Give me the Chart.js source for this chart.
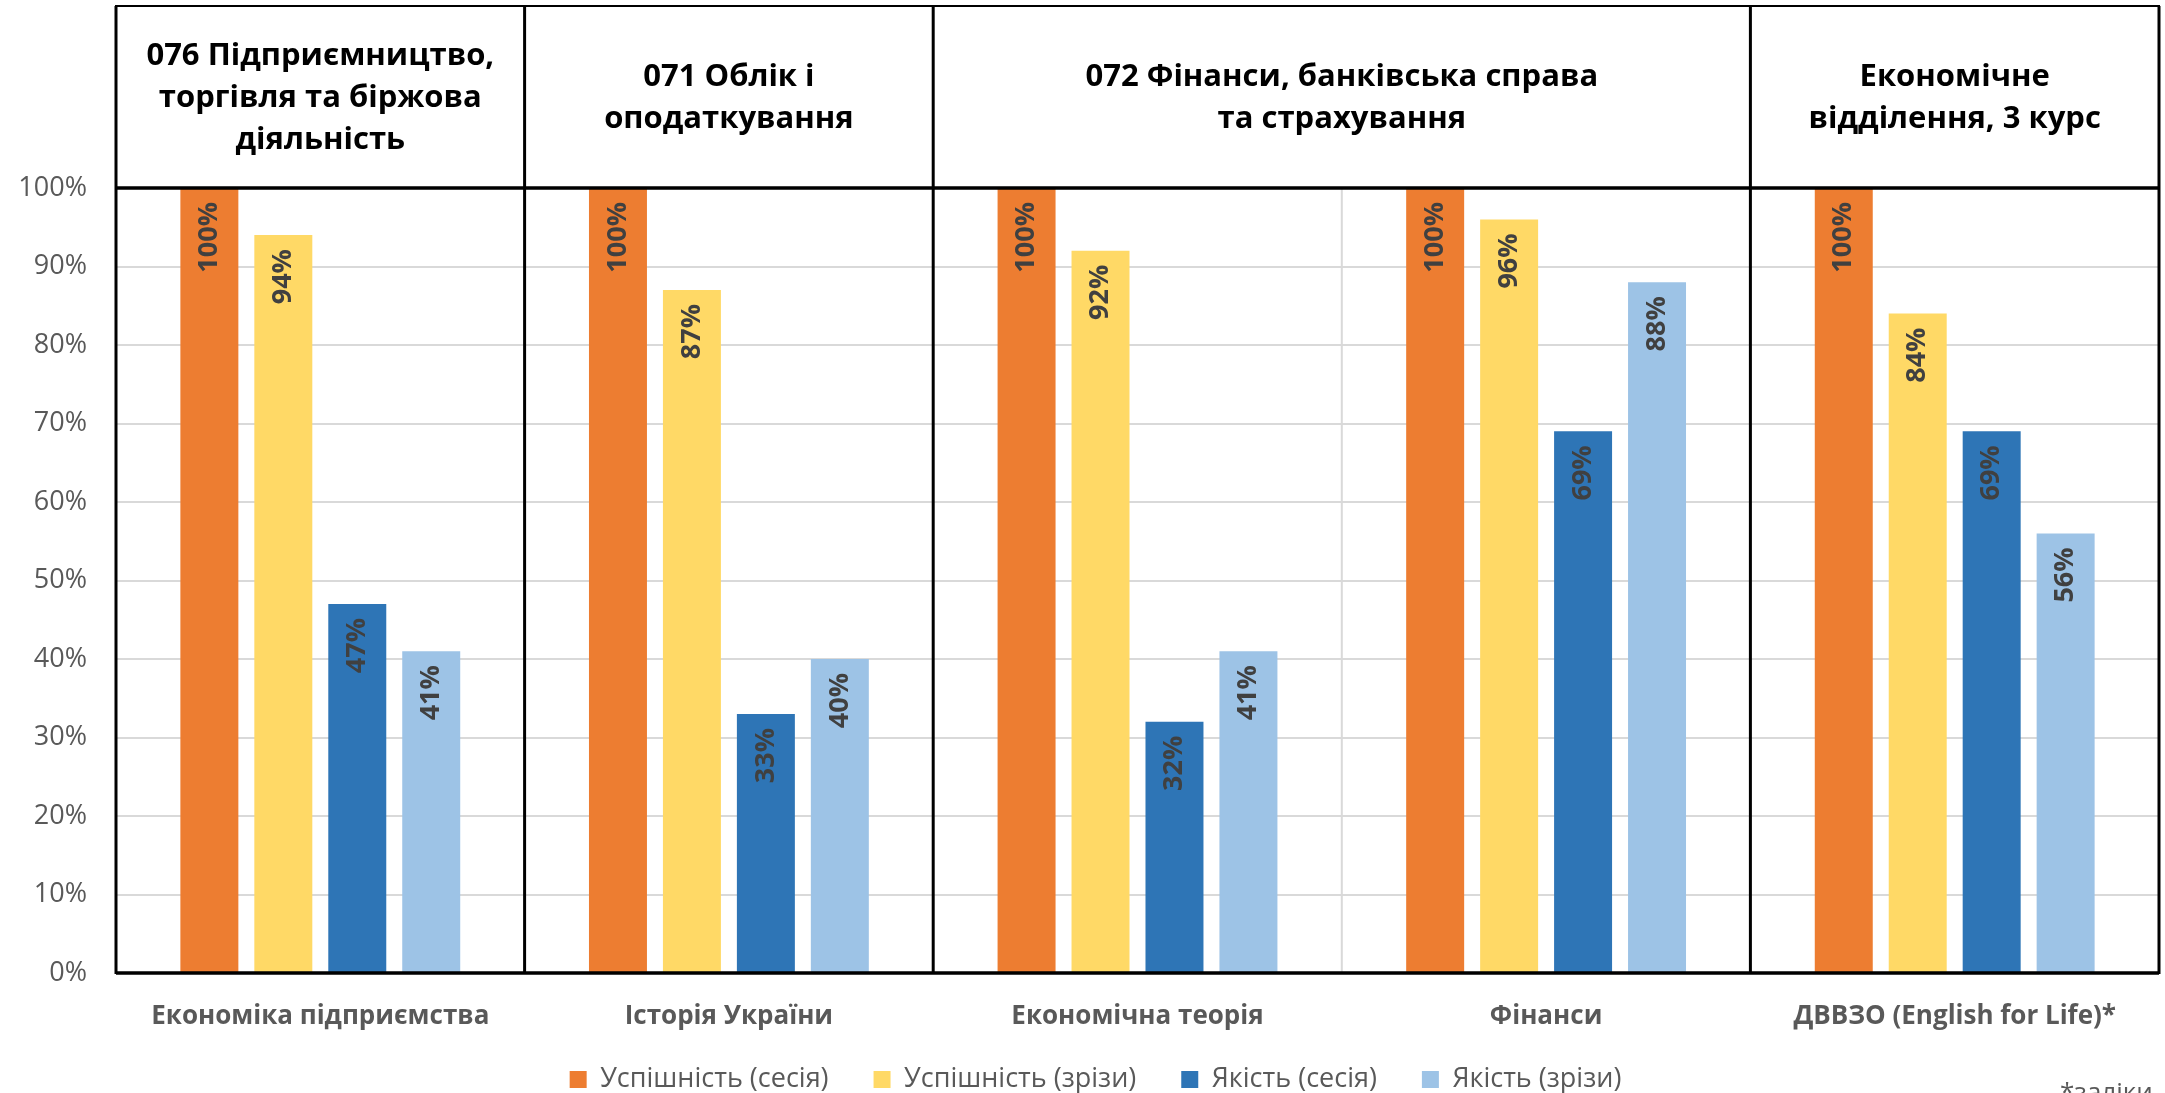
<!DOCTYPE html>
<html lang="uk">
<head>
<meta charset="utf-8">
<title>Успішність та якість</title>
<script src="https://cdn.jsdelivr.net/npm/chart.js@4.4.1/dist/chart.umd.min.js"></script>
<style>
    html, body { margin: 0; padding: 0; background: #ffffff; }
    #wrap { width: 2165px; height: 1093px; }
</style>
</head>
<body>
<div id="wrap"><canvas id="resultsChart" width="2165" height="1093"></canvas></div>
<script>
// ==============================
// Data
// ==============================
const subjects = [
    'Економіка підприємства',
    'Історія України',
    'Економічна теорія',
    'Фінанси',
    'ДВВЗО (English for Life)*'
];

const successSession = [100, 100, 100, 100, 100];
const successCuts = [94, 87, 92, 96, 84];
const qualitySession = [47, 33, 32, 69, 69];
const qualityCuts = [41, 40, 41, 88, 56];

const seriesNames = ['Успішність (сесія)', 'Успішність (зрізи)', 'Якість (сесія)', 'Якість (зрізи)'];
const seriesColors = ['#ED7D31', '#FFD966', '#2E75B6', '#9DC3E6'];

// header cells above the plot, with how many subjects each one covers
const headerTexts = [
    ['076 Підприємництво,', 'торгівля та біржова', 'діяльність'],
    ['071 Облік і', 'оподаткування'],
    ['072 Фінанси, банківська справа', 'та страхування'],
    ['Економічне', 'відділення, 3 курс']
];
const headerSpans = [1, 1, 2, 1];

const yTicks = [0, 10, 20, 30, 40, 50, 60, 70, 80, 90, 100];
const footNote = '*заліки';

const FONT = '"Open Sans", "Noto Sans", sans-serif';

// ==============================
// Plugins
// ==============================

// vertical value labels inside the top of every bar
const barLabels = {
    id: 'barLabels',
    afterDatasetsDraw(chart) {
        const ctx = chart.ctx;
        ctx.save();
        ctx.fillStyle = '#404040';
        ctx.font = 'bold 27px ' + FONT;
        ctx.textAlign = 'right';
        ctx.textBaseline = 'middle';
        chart.data.datasets.forEach((ds, i) => {
            chart.getDatasetMeta(i).data.forEach((bar, j) => {
                ctx.save();
                ctx.translate(bar.x, bar.y + 14);
                ctx.rotate(-Math.PI / 2);
                ctx.fillText(ds.data[j] + '%', 0, 0);
                ctx.restore();
            });
        });
        ctx.restore();
    }
};

// legend sits a bit closer to the axis labels than the layout allows
const legendNudge = {
    id: 'legendNudge',
    afterLayout(chart) {
        const lg = chart.legend;
        if (lg) {
            lg.top -= 12;
            lg.bottom -= 12;
            lg.left += 16;
            lg.right += 16;
        }
    }
};

// header table, group frames and the foot note
const frame = {
    id: 'frame',
    afterDraw(chart) {
        const ctx = chart.ctx;
        const area = chart.chartArea;
        const step = (area.right - area.left) / subjects.length;
        const headTop = 6;

        ctx.save();

        // thin divider between the two subjects of the shared group
        ctx.strokeStyle = '#d9d9d9';
        ctx.lineWidth = 2;
        let pos = 0;
        headerSpans.forEach(span => {
            for (let k = 1; k < span; k++) {
                const x = area.left + (pos + k) * step;
                ctx.beginPath();
                ctx.moveTo(x, area.top);
                ctx.lineTo(x, area.bottom);
                ctx.stroke();
            }
            pos += span;
        });

        // outer box of the header
        ctx.strokeStyle = '#000000';
        ctx.lineWidth = 2;
        ctx.strokeRect(area.left, headTop, area.right - area.left, area.top - headTop);

        // group dividers run through header and plot
        ctx.lineWidth = 3;
        pos = 0;
        const edges = [0];
        headerSpans.forEach(span => { pos += span; edges.push(pos); });
        edges.forEach(e => {
            const x = area.left + e * step;
            ctx.beginPath();
            ctx.moveTo(x, headTop);
            ctx.lineTo(x, area.bottom + 1);
            ctx.stroke();
        });

        // top and bottom of the plot
        ctx.lineWidth = 3.5;
        ctx.beginPath();
        ctx.moveTo(area.left, area.top);
        ctx.lineTo(area.right, area.top);
        ctx.moveTo(area.left, area.bottom);
        ctx.lineTo(area.right, area.bottom);
        ctx.stroke();

        // header texts
        ctx.fillStyle = '#000000';
        ctx.font = 'bold 31px ' + FONT;
        ctx.textAlign = 'center';
        ctx.textBaseline = 'middle';
        const lineGap = 42;
        const midY = (headTop + area.top) / 2 + 1;
        for (let g = 0; g < headerTexts.length; g++) {
            const x0 = area.left + edges[g] * step;
            const x1 = area.left + edges[g + 1] * step;
            const lines = headerTexts[g];
            const y0 = midY - (lines.length - 1) * lineGap / 2;
            lines.forEach((t, k) => ctx.fillText(t, (x0 + x1) / 2, y0 + k * lineGap));
        }

        // foot note, cut by the bottom edge like in the source
        ctx.fillStyle = '#595959';
        ctx.font = '26px ' + FONT;
        ctx.textAlign = 'left';
        ctx.textBaseline = 'alphabetic';
        ctx.fillText(footNote, 2060, 1101);

        ctx.restore();
    }
};

// ==============================
// Chart.js Initialization
// ==============================
const resultsCtx = document.getElementById('resultsChart').getContext('2d');
const resultsChart = new Chart(resultsCtx, {
    type: 'bar',
    data: {
        labels: subjects,
        datasets: [successSession, successCuts, qualitySession, qualityCuts].map((vals, i) => ({
            label: seriesNames[i],
            data: vals,
            backgroundColor: seriesColors[i],
            categoryPercentage: 0.724,
            barPercentage: 0.784
        }))
    },
    options: {
        responsive: false,
        animation: false,
        layout: { padding: { top: 188, right: 6, bottom: -22, left: 0 } },
        scales: {
            x: {
                grid: { display: false },
                border: { display: false },
                ticks: {
                    color: '#595959',
                    font: { family: FONT, size: 26, weight: 'bold' },
                    padding: 20,
                    maxRotation: 0,
                    autoSkip: false
                },
                afterFit: (scale) => { scale.height = 60; }
            },
            y: {
                min: 0,
                max: 100,
                afterBuildTicks: (scale) => { scale.ticks = yTicks.map(v => ({ value: v })); },
                grid: { color: '#d9d9d9', lineWidth: 2, drawTicks: false },
                border: { display: false },
                ticks: {
                    color: '#595959',
                    font: { family: FONT, size: 27 },
                    padding: 29,
                    callback: (v) => v + '%'
                },
                afterFit: (scale) => { scale.width = 116; }
            }
        },
        plugins: {
            legend: {
                position: 'bottom',
                labels: {
                    color: '#595959',
                    font: { family: FONT, size: 27 },
                    boxWidth: 17,
                    boxHeight: 17,
                    padding: 45
                }
            },
            tooltip: { enabled: false }
        }
    },
    plugins: [barLabels, legendNudge, frame]
});
</script>
</body>
</html>
